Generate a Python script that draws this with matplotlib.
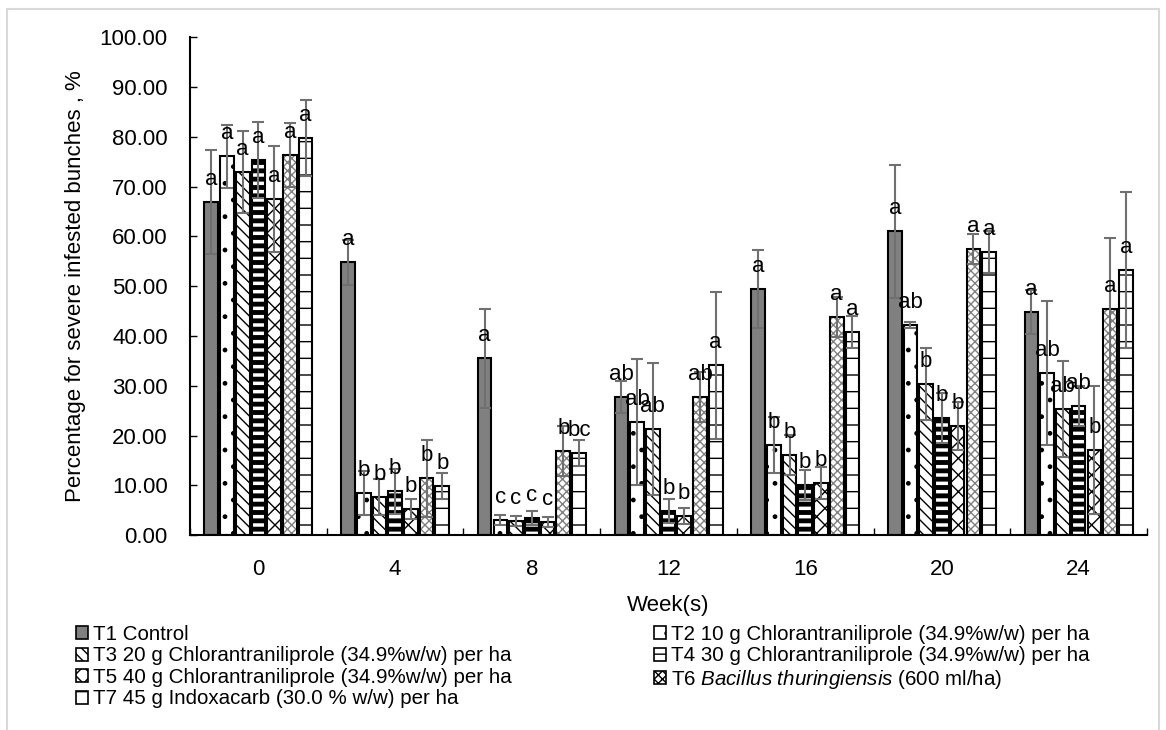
import matplotlib
matplotlib.use('Agg')
import matplotlib.pyplot as plt
import numpy as np
from matplotlib.patches import Rectangle, Patch

plt.rcParams['font.family'] = ['Liberation Sans', 'DejaVu Sans']
plt.rcParams['mathtext.fontset'] = 'custom'
plt.rcParams['mathtext.rm'] = 'Liberation Sans'
plt.rcParams['mathtext.it'] = 'Liberation Sans:italic'
plt.rcParams['hatch.linewidth'] = 1.0

weeks = ['0', '4', '8', '12', '16', '20', '24']
names = ['T1 Control',
         'T2 10 g Chlorantraniliprole (34.9%w/w) per ha',
         'T3 20 g Chlorantraniliprole (34.9%w/w) per ha',
         'T4 30 g Chlorantraniliprole (34.9%w/w) per ha',
         'T5 40 g Chlorantraniliprole (34.9%w/w) per ha',
         'T6 $\\it{Bacillus\\ thuringiensis}$ (600 ml/ha)',
         'T7 45 g Indoxacarb (30.0 % w/w) per ha']

# means per treatment, one value per week
t1 = [66.9, 54.8, 35.5, 27.7, 49.4, 61.0, 44.8]
t2 = [76.1, 8.4, 3.0, 22.7, 18.1, 42.2, 32.5]
t3 = [72.9, 7.6, 2.8, 21.3, 16.1, 30.3, 25.3]
t4 = [75.3, 8.8, 3.4, 4.8, 10.0, 23.5, 25.9]
t5 = [67.5, 5.2, 2.6, 3.8, 10.5, 21.9, 17.1]
t6 = [76.3, 11.4, 16.9, 27.7, 43.8, 57.4, 45.4]
t7 = [79.7, 9.8, 16.5, 34.1, 40.8, 56.8, 53.2]

# standard errors
e1 = [10.5, 4.5, 10.0, 3.2, 7.9, 13.4, 4.5]
e2 = [6.3, 4.4, 1.0, 12.6, 5.7, 0.6, 14.5]
e3 = [8.3, 3.6, 1.0, 13.2, 4.1, 7.2, 9.6]
e4 = [7.6, 4.5, 1.4, 2.4, 3.0, 5.0, 4.0]
e5 = [10.6, 2.0, 1.0, 1.6, 3.2, 4.8, 12.8]
e6 = [6.4, 7.7, 5.0, 5.0, 4.0, 3.0, 14.3]
e7 = [7.6, 2.6, 2.6, 14.7, 3.3, 4.2, 15.7]

# letters from mean separation
l1 = ['a', 'a', 'a', 'ab', 'a', 'a', 'a']
l2 = ['a', 'b', 'c', 'ab', 'b', 'ab', 'ab']
l3 = ['a', 'b', 'c', 'ab', 'b', 'b', 'ab']
l4 = ['a', 'b', 'c', 'b', 'b', 'b', 'ab']
l5 = ['a', 'b', 'c', 'b', 'b', 'b', 'b']
l6 = ['a', 'b', 'b', 'ab', 'a', 'a', 'a']
l7 = ['a', 'b', 'bc', 'a', 'a', 'a', 'a']

means = [t1, t2, t3, t4, t5, t6, t7]
errs = [e1, e2, e3, e4, e5, e6, e7]
letters = [l1, l2, l3, l4, l5, l6, l7]

fills = ['#808080', 'white', 'white', 'white', 'white', 'white', 'white']
hatches = [None, '.', '\\\\\\', '--', 'xx', 'xxxx', '-']
hatch_cols = ['black', 'black', 'black', 'black', 'black', '#808080', 'black']

fig = plt.figure(figsize=(11.66, 7.3), dpi=100)
fig.patches.append(Rectangle((0.006, -0.02), 0.988, 1.0077, transform=fig.transFigure,
                             fill=False, edgecolor='#d9d9d9', linewidth=1.5))
ax = fig.add_axes([0.163, 0.267, 0.8207, 0.682])

x = np.arange(len(weeks)) + 0.5
slot = 0.115
w = 0.1
handles = []
for i in range(7):
    pos = x + (i - 3) * slot
    # hatch layer, then black outline on top
    hb = ax.bar(pos, means[i], w, color=fills[i], edgecolor=hatch_cols[i], linewidth=0,
                hatch=hatches[i], zorder=2)
    if i == 3:
        for p in hb:
            if hasattr(p, 'set_hatch_linewidth'):
                p.set_hatch_linewidth(3.5)
    ax.bar(pos, means[i], w, fill=False, edgecolor='black', linewidth=1.5, zorder=2.5)
    ax.errorbar(pos, means[i], yerr=errs[i], fmt='none', ecolor='#707070',
                elinewidth=1.5, capsize=4, capthick=1.5, zorder=3)
    for p, m, t in zip(pos, means[i], letters[i]):
        ax.text(p, m + 2.4, t, ha='center', va='bottom', fontsize=16, zorder=4)
    handles.append(Patch(facecolor=fills[i], edgecolor='black', linewidth=1.2,
                         hatch=hatches[i]))

ax.set_xlim(0, 7)
ax.set_ylim(0, 100)
ax.set_yticks(np.arange(0, 101, 10))
ax.set_yticklabels(['%.2f' % v for v in np.arange(0, 101, 10)], fontsize=16)
ax.set_xticks(x)
ax.set_xticklabels(weeks, fontsize=16)
ax.set_xticks(np.arange(0, 8), minor=True)
ax.tick_params(axis='x', which='major', length=0, pad=17)
ax.tick_params(axis='x', which='minor', direction='in', length=5, width=1)
ax.tick_params(axis='y', direction='in', length=5, width=1, pad=16)
ax.spines['top'].set_visible(False)
ax.spines['right'].set_visible(False)
ax.spines['left'].set_linewidth(1.5)
ax.spines['bottom'].set_linewidth(1.5)
ax.set_xlabel('Week(s)', fontsize=16, labelpad=11)
ax.set_ylabel('Percentage for severe infested bunches , %', fontsize=16, labelpad=10)

order = [0, 2, 4, 6, 1, 3, 5]
leg = fig.legend([handles[k] for k in order], [names[k] for k in order], ncol=2,
                 loc='upper left', bbox_to_anchor=(0.065, 0.144), frameon=False,
                 fontsize=14.8, handlelength=0.6, handleheight=0.6, handletextpad=0.25,
                 columnspacing=6.9, labelspacing=0.12, borderaxespad=0, borderpad=0)

fig.savefig('out.png', dpi=100)
